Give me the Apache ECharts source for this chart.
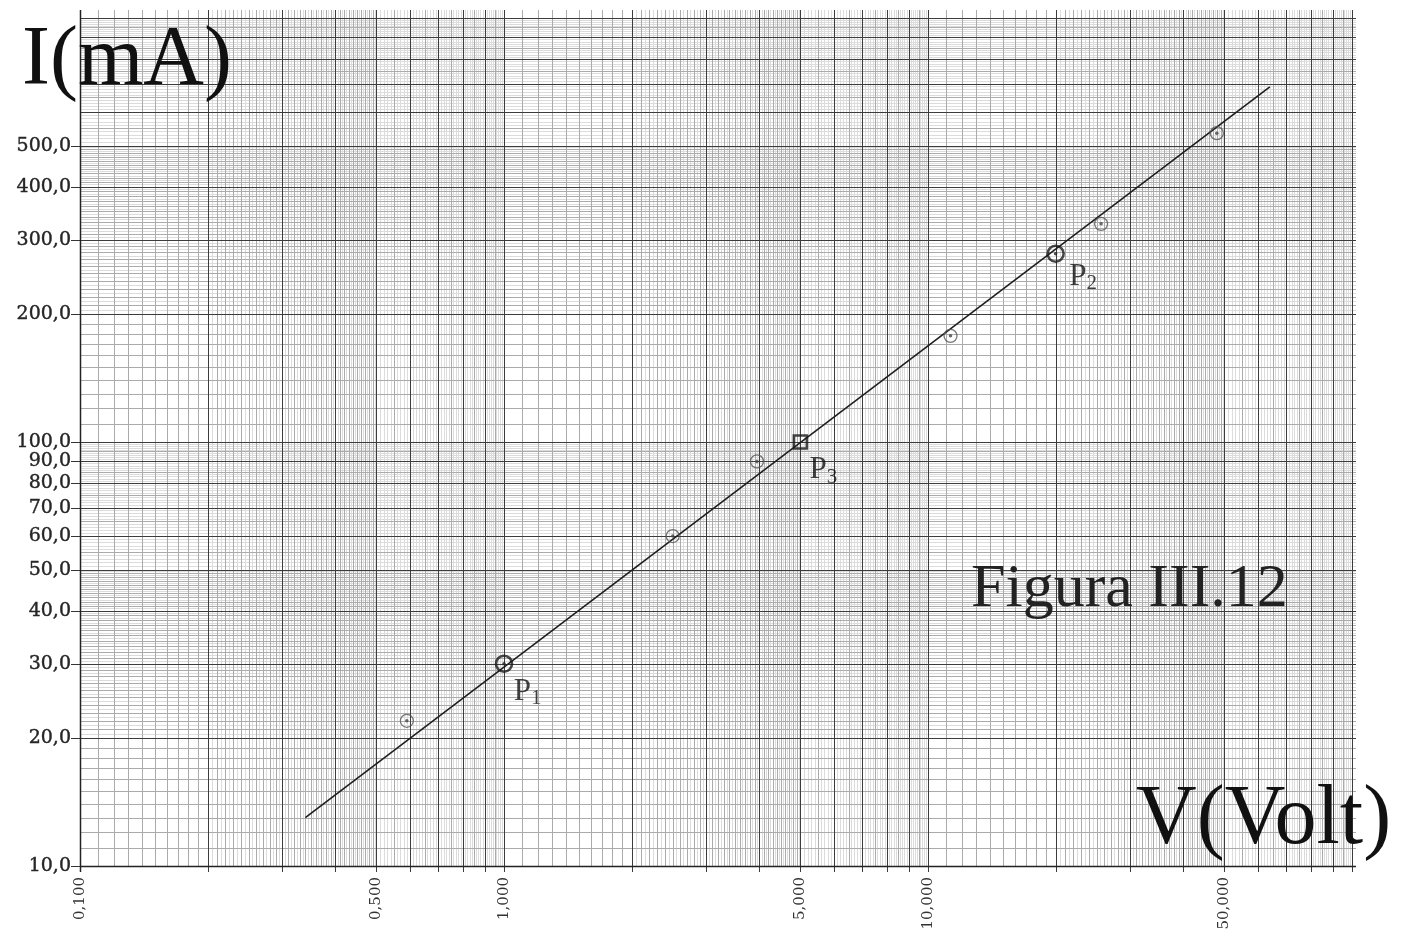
<!DOCTYPE html>
<html><head><meta charset="utf-8">
<script src="https://cdn.jsdelivr.net/npm/echarts@6/dist/echarts.min.js"></script>
<style>html,body{margin:0;padding:0;background:#fff}#c{width:1408px;height:944px}</style>
</head><body><div id="c"></div>
<script>
// ---- data ----
const measuredV = [0.59, 2.5, 3.95, 11.3, 25.6, 48];
const measuredI = [22, 60, 90, 178, 327, 535];
const pointNames = ['1', '2', '3'];
const pointV = [1.0, 20, 5.0];
const pointI = [30, 278, 100];
const fitV = [0.34, 64];
const fitI = [13.0, 688];
const xTickValues = [0.1, 0.5, 1, 5, 10, 50];
const yTickValues = [10, 20, 30, 40, 50, 60, 70, 80, 90, 100, 200, 300, 400, 500];
const xRange = [0.1, 100];
const yRange = [10, 1000];

// ---- helpers ----
function paperLines(lo, hi) {
  const out = [];
  const e0 = Math.round(Math.log10(lo)), e1 = Math.round(Math.log10(hi));
  for (let e = e0; e < e1; e++) {
    const b = Math.pow(10, e);
    for (let k = 20; k < 200; k++) {
      const m = k / 20;
      let level;
      if (k % 20 === 0) level = 2;
      else if (m < 2) { if (k % 2 === 1) continue; level = 1; }
      else if (m < 5) level = (k % 2 === 0) ? 1 : 0;
      else { if (k % 2 === 1) continue; level = (k % 10 === 0) ? 1 : 0; }
      out.push({ v: m * b, level });
    }
  }
  out.push({ v: hi, level: 2 });
  return out;
}
const fmtX = v => v.toFixed(3).replace('.', ',');
const fmtY = v => v.toFixed(1).replace('.', ',');
const lineColors = ['#dcdcdc', '#ababab', '#3c3c3c'];

function renderPaper(params, api) {
  const p0 = api.coord([xRange[0], yRange[0]]);
  const p1 = api.coord([xRange[1], yRange[1]]);
  const left = p0[0], bottom = p0[1], right = p1[0], top = p1[1];
  const layers = [[], [], []];
  paperLines(xRange[0], xRange[1]).forEach(l => {
    const x = Math.round(api.coord([l.v, yRange[0]])[0]) + 0.5;
    layers[l.level].push({ type: 'line', silent: true,
      shape: { x1: x, y1: top - 8, x2: x, y2: l.level === 2 ? bottom + 6 : bottom },
      style: { stroke: lineColors[l.level], lineWidth: 1 } });
  });
  paperLines(yRange[0], yRange[1]).forEach(l => {
    const y = Math.round(api.coord([xRange[0], l.v])[1]) + 0.5;
    layers[l.level].push({ type: 'line', silent: true,
      shape: { x1: left, y1: y, x2: right + 4, y2: y },
      style: { stroke: lineColors[l.level], lineWidth: 1 } });
  });
  const children = layers[0].concat(layers[1], layers[2]);
  children.push({ type: 'line', shape: { x1: left + 0.5, y1: top - 8, x2: left + 0.5, y2: bottom + 6 }, style: { stroke: '#222', lineWidth: 1.5 } });
  children.push({ type: 'line', shape: { x1: left, y1: bottom + 0.5, x2: right + 4, y2: bottom + 0.5 }, style: { stroke: '#222', lineWidth: 1.5 } });
  yTickValues.forEach(v => {
    const y = Math.round(api.coord([xRange[0], v])[1]) + 0.5;
    children.push({ type: 'line', shape: { x1: left - 9, y1: y, x2: left, y2: y }, style: { stroke: '#333', lineWidth: 1 } });
    children.push({ type: 'text', x: left - 9, y: y, style: { text: fmtY(v), font: '19px "DejaVu Serif"', fill: '#262626', stroke: '#262626', lineWidth: 0.4, align: 'right', verticalAlign: 'middle' } });
  });
  xTickValues.forEach(v => {
    const x = api.coord([v, yRange[0]])[0];
    children.push({ type: 'text', x: x, y: bottom + 11, rotation: Math.PI / 2, style: { text: fmtX(v), font: '15px "DejaVu Serif"', fill: '#333', align: 'right', verticalAlign: 'middle' } });
  });
  return { type: 'group', children };
}

const labelPos = [[19, 20], [23, 15], [17, 19]];
const specialData = pointV.map((v, i) => ({
  value: [v, pointI[i]],
  symbol: i === 2 ? 'rect' : 'circle',
  symbolSize: i === 2 ? 13 : 16,
  label: { show: true, position: labelPos[i], formatter: '{p|P}{s|' + pointNames[i] + '}' }
}));

const chart = echarts.init(document.getElementById('c'), null, { renderer: 'canvas' });
chart.setOption({
  backgroundColor: '#ffffff',
  animation: false,
  grid: { left: 80, right: 56, top: 18, bottom: 78, containLabel: false },
  xAxis: { type: 'log', logBase: 10, min: xRange[0], max: xRange[1],
    axisLine: { show: false }, axisTick: { show: false }, axisLabel: { show: false }, splitLine: { show: false } },
  yAxis: { type: 'log', logBase: 10, min: yRange[0], max: yRange[1],
    axisLine: { show: false }, axisTick: { show: false }, axisLabel: { show: false }, splitLine: { show: false } },
  graphic: [
    { type: 'text', left: 22, top: 20, z: 10, style: { text: 'I(mA)', font: '84px "Liberation Serif"', fill: '#111' } },
    { type: 'text', left: 1136, top: 779, z: 10, style: { text: 'V(Volt)', font: '84px "Liberation Serif"', fill: '#111' } },
    { type: 'text', left: 971, top: 559, z: 10, style: { text: 'Figura III.12', font: '62px "Liberation Serif"', fill: '#222' } }
  ],
  series: [
    { type: 'custom', coordinateSystem: 'cartesian2d', clip: false, silent: true, z: 0,
      renderItem: renderPaper, data: [[1, 100]] },
    { type: 'line', data: fitV.map((v, i) => [v, fitI[i]]), symbol: 'none', z: 2,
      lineStyle: { color: '#1e1e1e', width: 1.6 } },
    { type: 'scatter', data: measuredV.map((v, i) => [v, measuredI[i]]), symbol: 'circle', symbolSize: 13, z: 3,
      itemStyle: { color: 'rgba(255,255,255,0)', borderColor: '#555', borderWidth: 1.3 } },
    { type: 'scatter', data: measuredV.map((v, i) => [v, measuredI[i]]), symbol: 'circle', symbolSize: 3.5, z: 4,
      itemStyle: { color: '#444' } },
    { type: 'scatter', data: specialData, z: 5,
      itemStyle: { color: 'rgba(255,255,255,0)', borderColor: '#1a1a1a', borderWidth: 2.6 },
      label: { color: '#111', align: 'left', verticalAlign: 'top',
        rich: { p: { fontFamily: 'Liberation Serif', fontSize: 31, color: '#111', lineHeight: 34 },
                s: { fontFamily: 'Liberation Serif', fontSize: 21, color: '#111', lineHeight: 34, padding: [14, 0, 0, 0] } } } },
    { type: 'scatter', data: pointV.slice(0, 2).map((v, i) => [v, pointI[i]]), symbolSize: 3.5, z: 6,
      itemStyle: { color: '#222' } }
  ]
});
</script></body></html>
